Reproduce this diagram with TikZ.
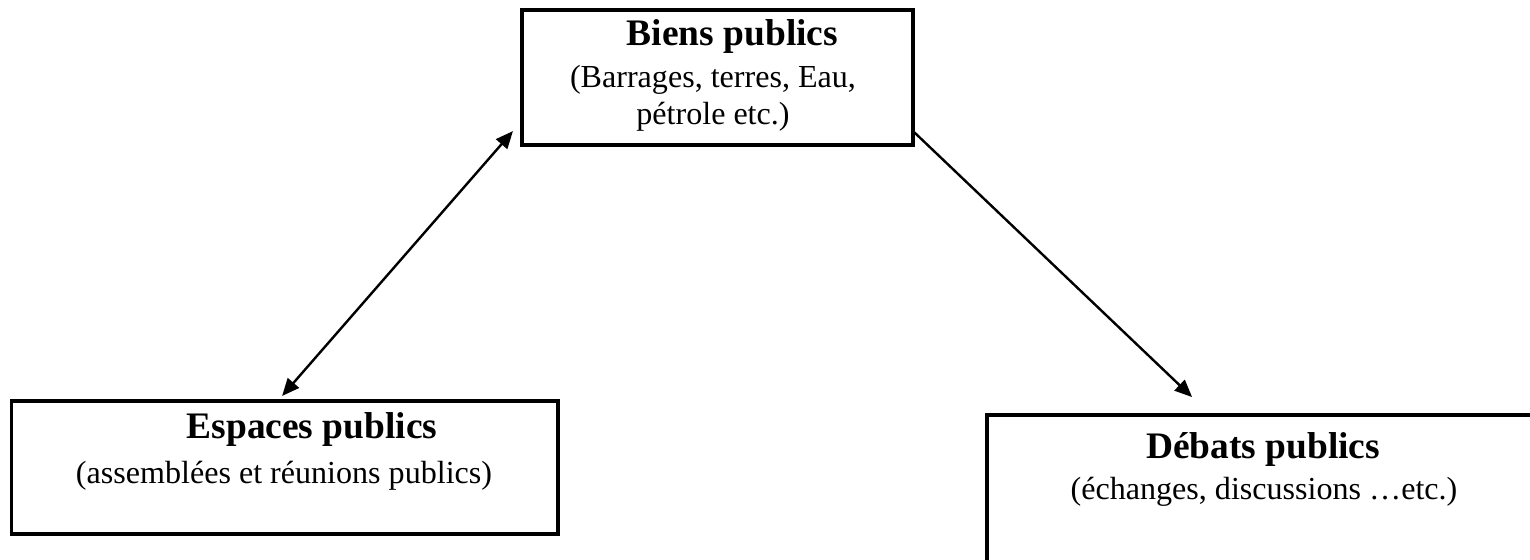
\documentclass[tikz,border=0pt]{standalone}
\usepackage{fontspec}
\setmainfont{Liberation Serif}
\usetikzlibrary{arrows.meta}

\begin{document}
\begin{tikzpicture}[x=0.374pt,y=-0.374pt,>={Triangle[length=6.5pt,width=5.5pt]},
		box/.style={draw, line width=1.3pt, inner sep=0pt, outer sep=0pt},
		ttl/.style={anchor=base, font=\fontsize{14}{16}\selectfont\bfseries},
		sub/.style={anchor=base, align=center, font=\fontsize{12}{13.84}\selectfont},
		arr/.style={line width=0.9pt}]
	\useasboundingbox (0,0) rectangle (1530,560);
	% boxes
	\node[box, minimum width=146.2pt, minimum height=50.5pt] (bp) at (717.5,77.5) {};
	\node[box, minimum width=204.4pt, minimum height=49.7pt] (ep) at (284.75,467.5) {};
	\node[box, minimum width=224.4pt, minimum height=74.8pt] (dp) at (1287,515) {};
	% texts
	\node[ttl] (bpt) at (732.5,46) {Biens publics};
	\node[sub] (bps) at (713,125) {(Barrages, terres, Eau,\\pétrole etc.)};
	\node[ttl] (ept) at (312,439) {Espaces publics};
	\node[sub] (eps) at (284,484) {(assemblées et réunions publics)};
	\node[ttl] (dpt) at (1263,459) {Débats publics};
	\node[sub] (dps) at (1264,500) {(échanges, discussions …etc.)};
	% arrows
	\draw[arr, <->] ([xshift=-1pt, yshift=1.9pt]ep.north) -- ([xshift=-3.4pt, yshift=5.2pt]bp.south west);
	\draw[arr, ->] ([xshift=-0.4pt, yshift=5.6pt]bp.south east) -- ([xshift=76.7pt, yshift=6.7pt]dp.north west);
\end{tikzpicture}
\end{document}
